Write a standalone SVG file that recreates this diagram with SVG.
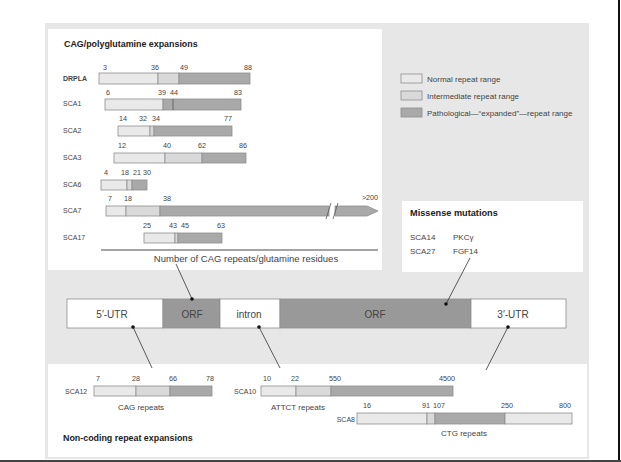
<svg xmlns="http://www.w3.org/2000/svg" width="621" height="462" viewBox="0 0 621 462">
<style>
text{font-family:"Liberation Sans",Arial,sans-serif;fill:#444}
.t{font-size:8.9px;font-weight:bold;fill:#222}
.n{font-size:7.2px;text-anchor:middle}
.l{font-size:7px}
.m{font-size:8px}
.c{font-size:9.5px;text-anchor:middle}
.g{font-size:10px;text-anchor:middle}
.r{font-size:8px;text-anchor:middle}
.lg{font-size:8px}
.nr{fill:#e9e9e9;stroke:#8e8e8e;stroke-width:0.8}
.im{fill:#d9d9d9;stroke:#8e8e8e;stroke-width:0.8}
.pa{fill:#a9a9a9;stroke:#8e8e8e;stroke-width:0.8}
.tk{stroke:#555;stroke-width:0.8}
.w{fill:#fff;stroke:#8e8e8e;stroke-width:0.8}
.orf{fill:#999;stroke:#8e8e8e;stroke-width:0.8}
.cn{stroke:#333;stroke-width:0.8;fill:none}
.dot{fill:#111}
</style>
<rect width="621" height="462" fill="#fff"/>
<rect x="45" y="23" width="544" height="436" fill="#e7e7e7"/>
<line x1="619" y1="0" x2="619" y2="462" stroke="#111" stroke-width="2"/>
<line x1="0" y1="461" x2="621" y2="461" stroke="#444" stroke-width="2"/>

<g id="cag-panel">
<rect x="48" y="29" width="334" height="241" fill="#fff"/>
<text class="t" x="64" y="47">CAG/polyglutamine expansions</text>
</g>

<g id="row-drpla">
<text class="l" x="63" y="81" font-weight="bold">DRPLA</text>
<rect class="nr" x="99" y="73" width="59" height="11"/>
<rect class="im" x="158" y="73" width="21" height="11"/>
<rect class="pa" x="179" y="73" width="71" height="11"/>
<text class="n" x="105" y="70">3</text><text class="n" x="155" y="70">36</text><text class="n" x="184" y="70">49</text><text class="n" x="248" y="70">88</text>
</g>

<g id="row-sca1">
<text class="l" x="63" y="106">SCA1</text>
<rect class="nr" x="105" y="99" width="58" height="11"/>
<rect class="pa" x="163" y="99" width="78" height="11"/>
<line class="tk" x1="173" y1="99" x2="173" y2="110"/>
<text class="n" x="108" y="95">6</text><text class="n" x="162" y="95">39</text><text class="n" x="174" y="95">44</text><text class="n" x="238" y="95">83</text>
</g>

<g id="row-sca2">
<text class="l" x="63" y="133">SCA2</text>
<rect class="nr" x="118" y="126" width="32" height="10"/>
<rect class="im" x="150" y="126" width="4" height="10"/>
<rect class="pa" x="154" y="126" width="78" height="10"/>
<text class="n" x="123" y="121">14</text><text class="n" x="143" y="121">32</text><text class="n" x="156" y="121">34</text><text class="n" x="228" y="121">77</text>
</g>

<g id="row-sca3">
<text class="l" x="63" y="160">SCA3</text>
<rect class="nr" x="114" y="153" width="51" height="10"/>
<rect class="im" x="165" y="153" width="37" height="10"/>
<rect class="pa" x="202" y="153" width="44" height="10"/>
<text class="n" x="122" y="148">12</text><text class="n" x="167" y="148">40</text><text class="n" x="202" y="148">62</text><text class="n" x="243" y="148">86</text>
</g>

<g id="row-sca6">
<text class="l" x="63" y="187">SCA6</text>
<rect class="nr" x="101" y="180" width="26" height="10"/>
<rect class="im" x="127" y="180" width="5" height="10"/>
<rect class="pa" x="132" y="180" width="15" height="10"/>
<text class="n" x="106" y="175">4</text><text class="n" x="125" y="175">18</text><text class="n" x="137" y="175">21</text><text class="n" x="147" y="175">30</text>
</g>

<g id="row-sca7">
<text class="l" x="63" y="213">SCA7</text>
<rect class="nr" x="106" y="206" width="20" height="10"/>
<rect class="im" x="126" y="206" width="34" height="10"/>
<rect class="pa" x="160" y="206" width="169" height="10"/>
<path class="pa" d="M335 206 H367 L378 211 L367 216 H335 Z"/>
<line x1="326" y1="219" x2="331" y2="203" stroke="#555" stroke-width="0.8"/>
<line x1="333" y1="219" x2="338" y2="203" stroke="#555" stroke-width="0.8"/>
<text class="n" x="110" y="201">7</text><text class="n" x="128" y="201">18</text><text class="n" x="167" y="201">38</text><text class="n" x="370" y="200">&gt;200</text>
</g>

<g id="row-sca17">
<text class="l" x="63" y="240">SCA17</text>
<rect class="nr" x="144" y="233" width="31" height="10"/>
<rect class="im" x="175" y="233" width="3" height="10"/>
<rect class="pa" x="178" y="233" width="44" height="10"/>
<text class="n" x="147" y="228">25</text><text class="n" x="173" y="228">43</text><text class="n" x="185" y="228">45</text><text class="n" x="221" y="228">63</text>
</g>

<g id="axis">
<line x1="101" y1="250" x2="378" y2="250" stroke="#333" stroke-width="0.9"/>
<text class="c" x="246" y="262">Number of CAG repeats/glutamine residues</text>
</g>

<g id="legend">
<rect class="nr" x="401" y="74" width="21" height="9"/>
<text class="lg" x="427" y="81.5">Normal repeat range</text>
<rect class="im" x="401" y="91" width="21" height="9"/>
<text class="lg" x="427" y="98.5">Intermediate repeat range</text>
<rect class="pa" x="401" y="108" width="21" height="9"/>
<text class="lg" x="427" y="115.5">Pathological—“expanded”—repeat range</text>
</g>

<g id="missense">
<rect x="402" y="201" width="181" height="71" fill="#fff"/>
<text class="t" x="410" y="216" style="font-size:9.2px">Missense mutations</text>
<text class="m" x="410" y="240">SCA14</text><text class="m" x="453" y="240">PKCγ</text>
<text class="m" x="410" y="254">SCA27</text><text class="m" x="453" y="254">FGF14</text>
</g>

<g id="gene">
<rect class="w" x="67" y="299" width="96" height="29"/>
<rect class="orf" x="163" y="299" width="57" height="29"/>
<rect class="w" x="220" y="299" width="60" height="29"/>
<rect class="orf" x="280" y="299" width="191" height="29"/>
<rect class="w" x="471" y="299" width="95" height="29"/>
<text class="g" x="112" y="318">5′-UTR</text>
<text class="g" x="192" y="318">ORF</text>
<text class="g" x="249" y="318">intron</text>
<text class="g" x="375" y="318">ORF</text>
<text class="g" x="513" y="318">3′-UTR</text>
</g>

<g id="noncoding-panel">
<rect x="48" y="364" width="539" height="93" fill="#fff"/>
<text class="t" x="63" y="441">Non-coding repeat expansions</text>
</g>

<g id="sca12">
<text class="l" x="65" y="394">SCA12</text>
<rect class="nr" x="94" y="386" width="42" height="10"/>
<rect class="im" x="136" y="386" width="34" height="10"/>
<rect class="pa" x="170" y="386" width="42" height="10"/>
<text class="n" x="98" y="381">7</text><text class="n" x="136" y="381">28</text><text class="n" x="173" y="381">66</text><text class="n" x="210" y="381">78</text>
<text class="r" x="141" y="410">CAG repeats</text>
</g>

<g id="sca10">
<text class="l" x="234" y="394">SCA10</text>
<rect class="nr" x="261" y="386" width="35" height="10"/>
<rect class="im" x="296" y="386" width="35" height="10"/>
<rect class="pa" x="331" y="386" width="122" height="10"/>
<text class="n" x="267" y="381">10</text><text class="n" x="295" y="381">22</text><text class="n" x="335" y="381">550</text><text class="n" x="447" y="381">4500</text>
<text class="r" x="298" y="410">ATTCT repeats</text>
</g>

<g id="sca8">
<text class="l" x="355" y="422" text-anchor="end">SCA8</text>
<rect class="nr" x="357" y="413" width="70" height="11"/>
<rect class="im" x="427" y="413" width="8" height="11"/>
<rect class="pa" x="435" y="413" width="70" height="11"/>
<rect class="nr" x="505" y="413" width="67" height="11"/>
<text class="n" x="367" y="408">16</text><text class="n" x="426" y="408">91</text><text class="n" x="439" y="408">107</text><text class="n" x="507" y="408">250</text><text class="n" x="565" y="408">800</text>
<text class="r" x="464" y="436">CTG repeats</text>
</g>

<g id="connectors">
<line class="cn" x1="176" y1="264" x2="192" y2="299"/>
<circle class="dot" cx="192" cy="299" r="1.8"/>
<line class="cn" x1="470" y1="258" x2="446" y2="304"/>
<circle class="dot" cx="446" cy="304" r="1.8"/>
<line class="cn" x1="133" y1="327" x2="152" y2="368"/>
<circle class="dot" cx="133" cy="327" r="1.8"/>
<line class="cn" x1="259" y1="327" x2="280" y2="368"/>
<circle class="dot" cx="259" cy="327" r="1.8"/>
<line class="cn" x1="508" y1="327" x2="486" y2="370"/>
<circle class="dot" cx="508" cy="327" r="1.8"/>
</g>
</svg>
